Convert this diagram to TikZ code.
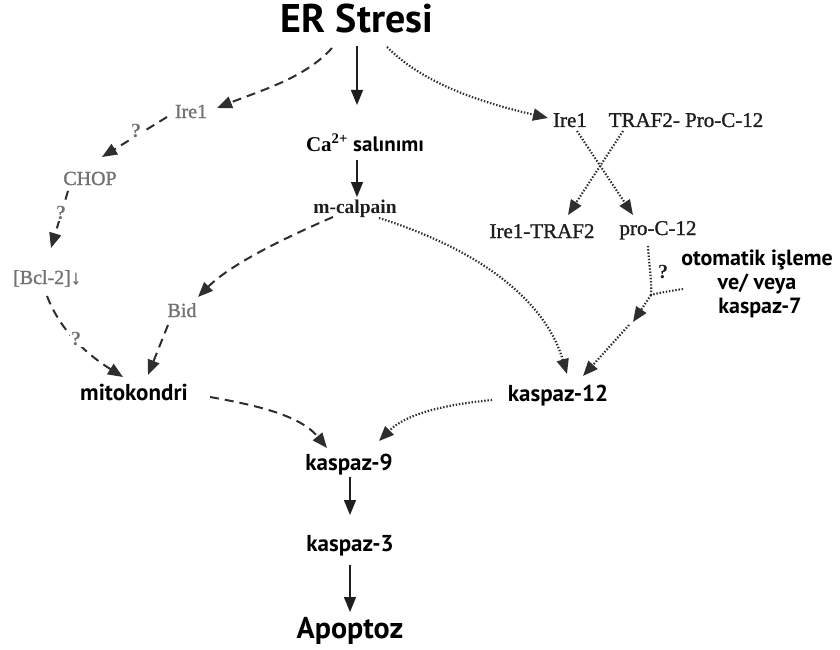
\documentclass[tikz,border=0pt]{standalone}
\usepackage{fontspec}
\setmainfont{Liberation Serif}
\newfontfamily\bsans{PT Sans}
\newfontfamily\semiserif[FakeBold=1.2]{Liberation Serif}
\usetikzlibrary{arrows.meta,calc}
\definecolor{ink}{HTML}{1E1E1E}
\definecolor{dk}{HTML}{2E2E2E}
\definecolor{gtx}{HTML}{727272}
\tikzset{
  sb/.style={font=\bsans\bfseries\fontsize{23}{26}\selectfont, text=black, inner sep=0pt, anchor=base},
  srb/.style={font=\bfseries\fontsize{19.5}{22}\selectfont, text=ink, inner sep=0pt, anchor=base},
  sr/.style={font=\semiserif\fontsize{21}{24}\selectfont, text=ink, inner sep=0pt, anchor=base},
  gr/.style={font=\semiserif\fontsize{20}{23}\selectfont, text=gtx, inner sep=0pt, anchor=base},
  qm/.style={font=\bfseries\fontsize{20}{22}\selectfont, text=gtx, inner sep=1.5pt, anchor=base, fill=white},
  tip/.style={-{Triangle[length=15pt,width=12pt]}},
  solidarrow/.style={tip, line width=1.4pt, draw=ink, fill=ink},
  dasharrow/.style={tip, line width=2pt, draw=dk, dash pattern=on 9pt off 6pt},
  dotline/.style={line width=2.2pt, draw=dk, dash pattern=on 1.4pt off 1.8pt},
  dotarrow/.style={tip, dotline},
}
\begin{document}
\begin{tikzpicture}[x=1pt,y=-1pt]
\useasboundingbox (0,0) rectangle (840,650);
\fill[white] (0,0) rectangle (840,650);

% ---- nodes ----
\node[sb, font=\bsans\bfseries\fontsize{40}{42}\selectfont] (er) at (357,33) {ER Stresi};
\node[sb, font=\bsans\bfseries\fontsize{21}{24}\selectfont] (ca) at (365,151) {{\rmfamily\bfseries Ca\textsuperscript{2+}} salınımı};
\node[srb] (mcal) at (355,213) {m-calpain};
\node[gr] (ireL) at (191,118) {Ire1};
\node[gr] (chop) at (90,185) {CHOP};
\node[gr] (bcl) at (47,284) {[Bcl-2]↓};
\node[gr] (bid) at (182,317) {Bid};
\node[sb] (mito) at (134,400) {mitokondri};
\node[sb] (k12) at (558,401) {kaspaz-12};
\node[sb] (k9) at (349,470) {kaspaz-9};
\node[sb] (k3) at (350,551) {kaspaz-3};
\node[sb, font=\bsans\bfseries\fontsize{30}{32}\selectfont] (apo) at (350,638) {Apoptoz};
\node[sr] (ireR) at (570,127) {Ire1};
\node[sr] (traf) at (686,127) {TRAF2- Pro-C-12};
\node[sr] (iretraf) at (542,238) {Ire1-TRAF2};
\node[sr] (proc) at (658,235) {pro-C-12};
\node[sb, font=\bsans\bfseries\fontsize{22}{24}\selectfont] (oto1) at (757,265) {otomatik işleme};
\node[sb, font=\bsans\bfseries\fontsize{22}{24}\selectfont] (oto2) at (757,289) {ve/ veya};
\node[sb, font=\bsans\bfseries\fontsize{22}{24}\selectfont] (oto3) at (760,313) {kaspaz-7};
\coordinate (merge) at ($(proc.base)+(-7,60)$);

% ---- solid arrows ----
\draw[solidarrow] ($(er.base)+(0,13)$) -- ($(ca.base)+(-8,-46)$);
\draw[solidarrow] ($(ca.base)+(-8,9)$) -- ($(mcal.base)+(2,-16)$);
\draw[solidarrow] ($(k9.base)+(1,7)$) -- ($(k3.base)+(0,-36)$);
\draw[solidarrow] ($(k3.base)+(0,14)$) -- ($(apo.base)+(0,-26)$);

% ---- left dashed branch ----
\draw[dasharrow] ($(er.base)+(-25,15)$) .. controls (305,78) and (262,90) .. ($(ireL.base)+(26,-10)$);
\draw[dasharrow] ($(ireL.base)+(-24,-1)$) -- ($(chop.base)+(12,-28)$);
\draw[dasharrow] ($(chop.base)+(-22,6)$) -- ($(bcl.base)+(4,-36)$);
\draw[dasharrow] ($(bcl.base)+(0,12)$) .. controls (58,325) and (80,350) .. ($(mito.base)+(-11,-23)$);
\draw[dasharrow] ($(mcal.base)+(-22,4)$) .. controls (280,240) and (230,265) .. ($(bid.base)+(16,-20)$);
\draw[dasharrow] ($(bid.base)+(-14,8)$) -- ($(mito.base)+(14,-25)$);
\draw[dasharrow] ($(mito.base)+(76,-3)$) .. controls (255,405) and (300,415) .. ($(k9.base)+(-22,-22)$);

% ---- right dotted branch ----
\draw[dotarrow] ($(er.base)+(30,14)$) .. controls (420,80) and (470,100) .. ($(ireR.base)+(-22,-9)$);
\draw[dotarrow] ($(ireR.base)+(7,4)$) -- ($(proc.base)+(-25,-20)$);
\draw[dotarrow] ($(traf.base)+(-63,4)$) -- ($(iretraf.base)+(26,-23)$);
\draw[dotline] ($(proc.base)+(-10,11)$) .. controls (649,265) and (652,282) .. (merge);
\draw[dotline] ($(oto2.base)+(-74,0)$) .. controls (670,291) and (658,293) .. (merge);
\draw[dotarrow] (merge) -- ($(merge)+(-18,27)$);
\draw[dotarrow] ($(merge)+(-22,30)$) -- ($(k12.base)+(25,-25)$);
\draw[dotarrow] ($(mcal.base)+(24,5)$) .. controls (480,250) and (545,300) .. ($(k12.base)+(9,-27)$);
\draw[dotarrow] ($(k12.base)+(-66,-1)$) .. controls (440,405) and (405,415) .. ($(k9.base)+(30,-29)$);

% ---- question marks ----
\node[qm] (q1) at (136,137) {?};
\node[qm] (q2) at (61,219) {?};
\node[qm] (q3) at (76,345) {?};
\node[qm, text=ink, fill=none] (q4) at (663,278) {?};
\end{tikzpicture}
\end{document}
